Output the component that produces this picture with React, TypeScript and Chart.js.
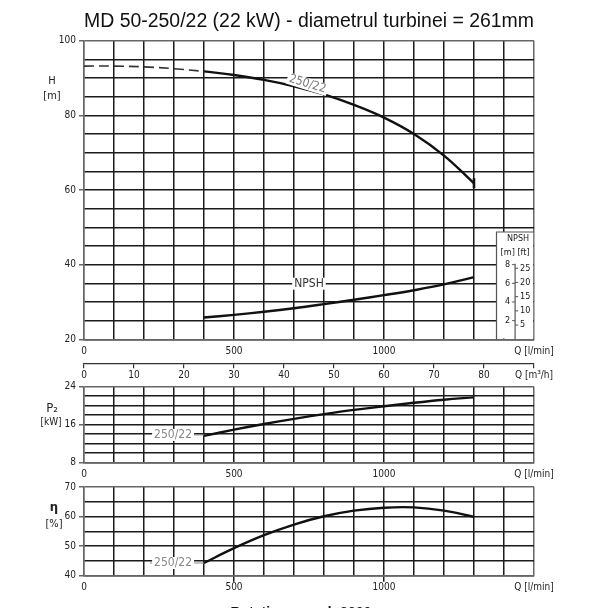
import React, { useEffect, useRef } from 'react';
import { Chart, registerables } from 'chart.js';

Chart.register(...registerables);

// flow rate Q [l/min] where the curves are drawn
const flowDashed = [0, 100, 200, 300, 400];
const flowCurve = [400, 500, 600, 700, 800, 900, 1000, 1100, 1200, 1300];

// H [m]
const headDashed = [93.2, 93.2, 93.0, 92.5, 91.8];
const head = [91.8, 90.8, 89.5, 87.8, 85.6, 82.8, 79.4, 75.0, 69.2, 61.8];
// NPSH [m]
const npsh = [2.34, 2.62, 2.95, 3.33, 3.77, 4.24, 4.73, 5.26, 5.88, 6.66];
// P2 [kW]
const power = [13.6, 14.9, 16.1, 17.2, 18.2, 19.1, 19.85, 20.6, 21.25, 21.75];
// efficiency [%]
const efficiency = [44.3, 49.3, 53.7, 57.3, 60.1, 62.0, 63.0, 63.1, 62.0, 59.9];

// labelled ticks
const flowLabels = [0, 500, 1000];
const headLabels = [20, 40, 60, 80, 100];
const powerLabels = [8, 16, 24];
const effLabels = [40, 50, 60, 70];
const npshMetres = [2, 4, 6, 8];
const npshFeet = [5, 10, 15, 20, 25];

const GRID = '#1b1b1b';
const EDGE = '#666';
const NARROW = "'Liberation Sans Narrow', 'DejaVu Sans Condensed', 'Arial Narrow', sans-serif";
const SANS = "'Liberation Sans', Arial, sans-serif";

// small NPSH scale box in the corner of the H panel (in l/min and m)
const insetFrame = { fromQ: 1375, axisQ: 1437, topM: 11.5, axisTopM: 8.1 };

const pts = (xs: number[], ys: number[]) => xs.map((x, i) => ({ x, y: ys[i] }));

const decorPlugin = {
  id: 'decor',
  afterDatasetsDraw(chart: any, _args: any, opts: any) {
    const ctx = chart.ctx;
    const area = chart.chartArea;
    const xs = chart.scales.x;
    ctx.save();

    if (opts.inset) {
      const n = chart.scales.npsh;
      const left = xs.getPixelForValue(insetFrame.fromQ);
      const top = n.getPixelForValue(insetFrame.topM);
      const axisX = xs.getPixelForValue(insetFrame.axisQ);
      ctx.fillStyle = '#fff';
      ctx.fillRect(left, top, area.right - left - 0.8, area.bottom - top - 0.8);
      ctx.strokeStyle = '#555';
      ctx.lineWidth = 1.2;
      ctx.beginPath();
      ctx.moveTo(left, area.bottom);
      ctx.lineTo(left, top);
      ctx.lineTo(area.right, top);
      ctx.stroke();
      ctx.beginPath();
      ctx.moveTo(axisX, area.bottom);
      ctx.lineTo(axisX, n.getPixelForValue(insetFrame.axisTopM));
      ctx.stroke();
      ctx.font = `9px ${NARROW}`;
      ctx.fillStyle = '#222';
      ctx.textBaseline = 'middle';
      ctx.lineWidth = 1;
      npshMetres.forEach((m) => {
        const py = n.getPixelForValue(m);
        ctx.beginPath();
        ctx.moveTo(axisX - 3, py);
        ctx.lineTo(axisX, py);
        ctx.stroke();
        ctx.textAlign = 'right';
        ctx.fillText(String(m), axisX - 5, py);
      });
      npshFeet.forEach((f) => {
        const py = n.getPixelForValue(f / 3.2808);
        ctx.beginPath();
        ctx.moveTo(axisX, py);
        ctx.lineTo(axisX + 3, py);
        ctx.stroke();
        ctx.textAlign = 'left';
        ctx.fillText(String(f), axisX + 5, py);
      });
      ctx.textAlign = 'center';
      ctx.fillText('NPSH', axisX + 3, top + 7);
      ctx.fillText('[m] [ft]', axisX, top + 21);
    }

    (opts.labels || []).forEach((l: any) => {
      const ys = chart.scales[l.axis];
      const px = xs.getPixelForValue(l.q);
      const py = ys.getPixelForValue(l.v);
      ctx.font = `${l.size || 12}px ${NARROW}`;
      if (l.leader) {
        ctx.strokeStyle = l.color;
        ctx.lineWidth = 1;
        ctx.beginPath();
        ctx.moveTo(xs.getPixelForValue(l.leader[0]), py);
        ctx.lineTo(xs.getPixelForValue(l.leader[1]), py);
        ctx.stroke();
      }
      ctx.save();
      ctx.translate(px, py);
      ctx.rotate(((l.rotate || 0) * Math.PI) / 180);
      const w = ctx.measureText(l.text).width;
      ctx.fillStyle = '#fff';
      ctx.fillRect(-w / 2 - 2, -6, w + 4, 12);
      ctx.fillStyle = l.color;
      ctx.textAlign = 'center';
      ctx.textBaseline = 'middle';
      ctx.fillText(l.text, 0, 0);
      ctx.restore();
    });

    (opts.titles || []).forEach((t: any) => {
      ctx.font = `${t.bold ? 'bold ' : ''}${t.size || 11}px ${NARROW}`;
      ctx.fillStyle = '#222';
      ctx.textAlign = 'center';
      ctx.textBaseline = 'middle';
      ctx.fillText(t.text, area.left + t.dx, area.top + t.dy);
    });

    ctx.restore();
  },
};

function flowAxis(height: number, tickMarks: boolean) {
  return {
    type: 'linear',
    position: 'bottom',
    min: 0,
    max: 1500,
    weight: 0,
    ticks: {
      stepSize: 100,
      autoSkip: false,
      maxRotation: 0,
      padding: tickMarks ? 0 : 6,
      color: '#222',
      font: { family: NARROW, size: 10 },
      callback: (v: number) => (v === 1500 ? 'Q [l/min]' : flowLabels.includes(v) ? String(v) : ''),
    },
    grid: {
      color: (c: any) => (c.tick && (c.tick.value === 0 || c.tick.value === 1500) ? EDGE : GRID),
      lineWidth: 1.5,
      drawTicks: tickMarks,
      tickLength: 6,
      tickColor: (c: any) =>
        c.tick && c.tick.value > 0 && flowLabels.includes(c.tick.value) ? GRID : 'rgba(0,0,0,0)',
    },
    border: { color: EDGE, width: 1.5 },
    afterFit: (s: any) => {
      s.height = height;
    },
  };
}

function valueAxis(min: number, max: number, step: number, labels: number[]) {
  return {
    type: 'linear',
    position: 'left',
    min,
    max,
    ticks: {
      stepSize: step,
      autoSkip: false,
      padding: 3,
      color: '#222',
      font: { family: NARROW, size: 10 },
      callback: (v: number) => (labels.includes(v) ? String(v) : ''),
    },
    grid: {
      color: (c: any) => (c.tick && c.tick.value === max ? EDGE : GRID),
      lineWidth: 1.5,
      tickLength: 5,
      tickColor: (c: any) => (c.tick && labels.includes(c.tick.value) ? EDGE : 'rgba(0,0,0,0)'),
    },
    border: { color: EDGE, width: 1.5 },
    afterFit: (s: any) => {
      s.width = 84;
    },
  };
}

function baseOptions(padding: any, scales: any, plugins: any) {
  return {
    responsive: true,
    maintainAspectRatio: false,
    animation: false,
    layout: { padding },
    elements: { line: { tension: 0.4 } },
    scales,
    plugins: {
      legend: { display: false },
      tooltip: { enabled: false },
      ...plugins,
    },
  };
}

const curve = (data: any, extra: any = {}) => ({
  data,
  borderColor: '#111',
  borderWidth: 2.4,
  pointRadius: 0,
  fill: false,
  ...extra,
});

const headConfig = () => ({
  type: 'line',
  data: {
    datasets: [
      curve(pts(flowDashed, headDashed), { borderColor: '#333', borderWidth: 1.6, borderDash: [10, 5] }),
      curve(pts(flowCurve, head), {
        pointRadius: (c: any) => (c.dataIndex === head.length - 1 ? 5 : 0),
        pointStyle: 'line',
        rotation: 90,
        pointBorderWidth: 2.6,
        pointBorderColor: '#111',
      }),
      curve(pts(flowCurve, npsh), { yAxisID: 'npsh' }),
    ],
  },
  options: baseOptions(
    { left: 0, right: 74, top: 0, bottom: 0.7 },
    {
      x: flowAxis(24, false),
      x2: {
        type: 'linear',
        position: 'bottom',
        min: 0,
        max: 90,
        weight: 1,
        ticks: {
          stepSize: 10,
          autoSkip: false,
          maxRotation: 0,
          padding: 1,
          color: '#222',
          font: { family: NARROW, size: 10 },
          callback: (v: number) => (v === 90 ? 'Q [m³/h]' : String(v)),
        },
        grid: { drawOnChartArea: false, drawTicks: true, tickLength: 5, tickColor: '#333', lineWidth: 1.2 },
        border: { color: '#333', width: 1.2 },
        afterFit: (s: any) => {
          s.height = 20;
        },
      },
      y: valueAxis(20, 100, 5, headLabels),
      npsh: { display: false, min: 0, max: 32 },
    },
    {
      title: {
        display: true,
        text: 'MD 50-250/22 (22 kW) - diametrul turbinei = 261mm',
        fullSize: false,
        color: '#111',
        font: { family: SANS, size: 19.6, weight: 'normal' },
        padding: { top: 9.6, bottom: 7.6 },
      },
      decor: {
        inset: true,
        titles: [
          { text: 'H', dx: -32, dy: 40 },
          { text: '[m]', dx: -32, dy: 55 },
        ],
        labels: [
          { text: '250/22', axis: 'y', q: 745, v: 88.4, rotate: 17, color: '#777' },
          { text: 'NPSH', axis: 'npsh', q: 750, v: 5.96, color: '#333' },
        ],
      },
    }
  ),
  plugins: [decorPlugin],
});

const powerConfig = () => ({
  type: 'line',
  data: { datasets: [curve(pts(flowCurve, power))] },
  options: baseOptions(
    { left: 0, right: 74, top: 10.7, bottom: 1.7 },
    { x: flowAxis(18, false), y: valueAxis(8, 24, 2, powerLabels) },
    {
      decor: {
        titles: [
          { text: 'P₂', dx: -32, dy: 22, size: 13 },
          { text: '[kW]', dx: -33, dy: 36, size: 10 },
        ],
        labels: [{ text: '250/22', axis: 'y', q: 297, v: 13.8, leader: [230, 400], color: '#888' }],
      },
    }
  ),
  plugins: [decorPlugin],
});

const effConfig = () => ({
  type: 'line',
  data: { datasets: [curve(pts(flowCurve, efficiency))] },
  options: baseOptions(
    { left: 0, right: 74, top: 7.7, bottom: 12.3 },
    { x: flowAxis(20, true), y: valueAxis(40, 70, 5, effLabels) },
    {
      decor: {
        titles: [
          { text: 'η', dx: -30, dy: 21, size: 13, bold: true },
          { text: '[%]', dx: -30, dy: 37 },
        ],
        labels: [{ text: '250/22', axis: 'y', q: 297, v: 44.3, leader: [220, 400], color: '#888' }],
      },
    }
  ),
  plugins: [decorPlugin],
});

function Panel({ top, height, build }: { top: number; height: number; build: () => any }) {
  const ref = useRef<HTMLCanvasElement>(null);
  useEffect(() => {
    if (!ref.current) return;
    const chart = new Chart(ref.current, build());
    return () => chart.destroy();
  }, [build]);
  return (
    <div style={{ position: 'absolute', left: 0, top, width: 608, height }}>
      <canvas ref={ref} />
    </div>
  );
}

export default function App() {
  return (
    <div
      style={{
        position: 'absolute',
        left: 0,
        top: 0,
        width: 608,
        height: 608,
        overflow: 'hidden',
        background: '#fff',
      }}
    >
      <Panel top={0} height={384} build={headConfig} />
      <Panel top={376} height={106} build={powerConfig} />
      <Panel top={478} height={130} build={effConfig} />
      <div
        style={{
          position: 'absolute',
          top: 604,
          left: 0,
          width: 608,
          paddingLeft: 24,
          boxSizing: 'border-box',
          textAlign: 'center',
          font: `bold 14px ${SANS}`,
          color: '#111',
        }}
      >
        Rotation speed: 2900 rpm
      </div>
    </div>
  );
}
